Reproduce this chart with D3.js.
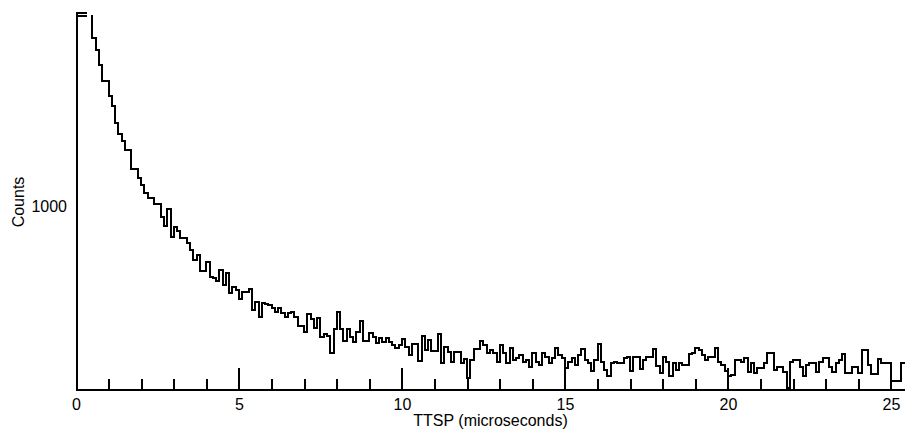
<!DOCTYPE html>
<html>
<head>
	<meta charset="utf-8">
	<title>TTSP histogram</title>
	<style>
		body { margin: 0; background: #fff; }
		svg { display: block; font-family: "Liberation Sans", Arial, sans-serif; }
		.axis path, .axis line { stroke: #000; stroke-width: 2; shape-rendering: crispEdges; }
		.axis text { font-size: 16px; fill: #000; font-family: "Liberation Sans", Arial, sans-serif; }
		.hist { fill: none; stroke: #000; stroke-width: 2; stroke-linejoin: miter; shape-rendering: crispEdges; }
		.label { font-size: 16px; fill: #000; }
	</style>
</head>
<body>
	<svg id="chart" width="905" height="437"></svg>

	<script src="https://cdn.jsdelivr.net/npm/d3@7"></script>
	<script>
		// histogram bins, 0.1 microseconds wide, starting at 0
		var binWidth = 0.1;
		var counts = [
			2036, 2036, 2036, 2200, 2200, 1919, 1855, 1770, 1682, 1682,
			1600, 1545, 1454, 1394, 1357, 1308, 1308, 1204, 1204, 1153,
			1117, 1071, 1044, 1044, 1011, 1011, 939, 889, 986, 829,
			884, 866, 826, 826, 798, 762, 707, 731, 643, 643,
			694, 611, 605, 592, 651, 569, 636, 527, 556, 541,
			490, 532, 532, 545, 432, 477, 395, 472, 465, 459,
			441, 423, 441, 414, 395, 414, 423, 395, 344, 344,
			313, 410, 381, 332, 386, 286, 301, 290, 195, 326,
			423, 326, 264, 326, 286, 259, 313, 373, 264, 264,
			308, 286, 250, 277, 259, 277, 259, 241, 226, 241,
			272, 231, 186, 246, 246, 155, 290, 213, 268, 209,
			209, 301, 144, 231, 204, 149, 204, 204, 144, 162,
			58, 159, 217, 217, 264, 242, 197, 213, 195, 149,
			241, 195, 140, 222, 159, 168, 186, 149, 160, 122,
			198, 149, 131, 198, 177, 144, 168, 222, 186, 168,
			113, 149, 168, 131, 186, 217, 159, 140, 100, 159,
			246, 149, 104, 71, 140, 149, 144, 144, 168, 173,
			100, 173, 173, 107, 159, 173, 173, 217, 126, 89,
			173, 149, 71, 144, 104, 144, 131, 131, 191, 198,
			222, 213, 186, 159, 173, 173, 222, 149, 131, 100,
			71, 77, 159, 159, 149, 168, 95, 140, 89, 113,
			113, 144, 198, 198, 104, 122, 122, 95, 5, 149,
			159, 159, 122, 71, 131, 144, 144, 95, 149, 168,
			168, 122, 95, 140, 159, 191, 86, 86, 122, 122,
			89, 213, 213, 131, 82, 82, 162, 144, 144, 144,
			44, 44, 44, 140, 140
		];

		var majorTicks = [0, 5, 10, 15, 20, 25];
		var minorTicks = [1, 2, 3, 4, 6, 7, 8, 9, 11, 12, 13, 14, 16, 17, 18, 19, 21, 22, 23, 24];
		var yTicks = [1000];

		var margin = {top: 12, right: 0, bottom: 48, left: 76},
		    width = 905 - margin.left - margin.right,
		    height = 437 - margin.top - margin.bottom;

		var svg = d3.select("#chart");
		var g = svg.append("g")
		    .attr("transform", "translate(" + margin.left + "," + margin.top + ")");

		var x = d3.scaleLinear().domain([0, 25.43]).range([0, width]);
		var y = d3.scaleLinear().domain([0, 2060]).range([height, 0]);

		// clip so off-scale bins get cut just under the axis cap
		g.append("clipPath").attr("id", "plotclip")
		  .append("rect")
		    .attr("x", 0).attr("y", 3)
		    .attr("width", width).attr("height", height - 3);

		// step path: start on the baseline, then one point per bin start
		var pts = [[0, 0]];
		counts.forEach(function(c, i) { pts.push([i * binWidth, c]); });
		pts.push([counts.length * binWidth, counts[counts.length - 1]]);

		var line = d3.line()
		    .x(function(d) { return x(d[0]); })
		    .y(function(d) { return y(d[1]); })
		    .curve(d3.curveStepAfter);

		g.append("path")
		    .attr("class", "hist")
		    .attr("clip-path", "url(#plotclip)")
		    .attr("d", line(pts));

		// minor x ticks (no labels)
		g.append("g")
		    .attr("class", "axis")
		    .attr("transform", "translate(0," + height + ")")
		    .call(d3.axisBottom(x).tickValues(minorTicks).tickSizeInner(-10).tickSizeOuter(0).tickFormat(""))
		    .call(function(s) { s.select(".domain").remove(); });

		// major x ticks with labels
		g.append("g")
		    .attr("class", "axis")
		    .attr("transform", "translate(0," + height + ")")
		    .call(d3.axisBottom(x).tickValues(majorTicks).tickSizeInner(-21).tickSizeOuter(0).tickPadding(10).tickFormat(d3.format("d")));

		// y axis: one label, no tick, small cap at the top
		g.append("g")
		    .attr("class", "axis")
		    .call(d3.axisLeft(y).tickValues(yTicks).tickSizeInner(0).tickSizeOuter(-11).tickPadding(9).tickFormat(d3.format("d")));

		svg.append("text")
		    .attr("class", "label")
		    .attr("x", margin.left + width / 2)
		    .attr("y", 426)
		    .attr("text-anchor", "middle")
		    .text("TTSP (microseconds)");

		svg.append("text")
		    .attr("class", "label")
		    .attr("transform", "translate(24,202) rotate(-90)")
		    .attr("text-anchor", "middle")
		    .text("Counts");
	</script>
</body>
</html>
